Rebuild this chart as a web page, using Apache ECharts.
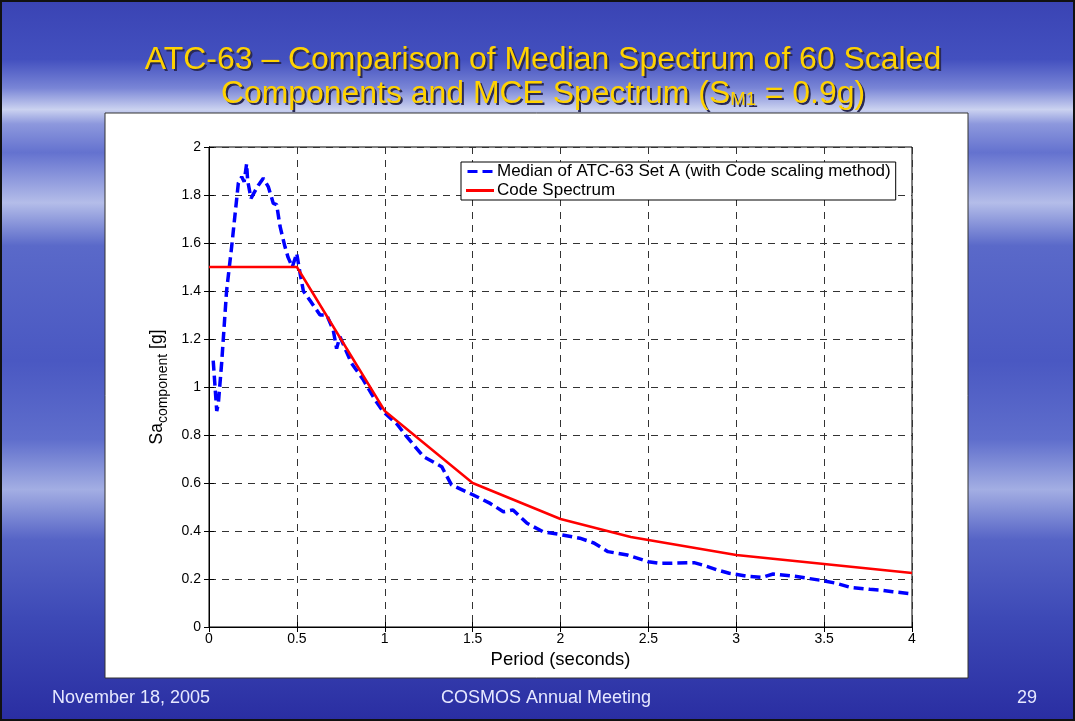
<!DOCTYPE html>
<html>
<head>
<meta charset="utf-8">
<script src="https://cdn.jsdelivr.net/npm/echarts@6/dist/echarts.min.js"></script>
<style>
  html, body { margin: 0; padding: 0; }
  #slide {
    width: 1075px; height: 721px; box-sizing: border-box;
    border: 2px solid #111;
    background: linear-gradient(180deg,
      #3a44b4 0%, #4350bf 8%, #7985d6 12%, #cbd2f0 15%, #8d98dd 17%,
      #6472cf 21%, #b4bde9 28%, #5a69c9 34%, #4a58c2 50%, #5f6ecc 61%,
      #a3aee3 68%, #5664c6 75%, #3d49b6 86%, #2a2ea2 100%);
  }
  #chart { width: 1071px; height: 717px; }
</style>
</head>
<body>
<div id="slide"><div id="chart"></div></div>
<script>
// median of 60 scaled components
const medianPeriods = [0.024, 0.044, 0.053, 0.072, 0.10, 0.129, 0.167, 0.186, 0.20, 0.214, 0.22, 0.239, 0.25,
  0.28, 0.309, 0.337, 0.366, 0.385, 0.404, 0.432, 0.45, 0.474, 0.499, 0.518, 0.537, 0.575, 0.632, 0.67,
  0.707, 0.726, 0.745, 0.81, 0.878, 0.945, 0.992, 1.07, 1.125, 1.22, 1.324, 1.38, 1.504, 1.6, 1.675, 1.73,
  1.81, 1.90, 2.0, 2.11, 2.19, 2.27, 2.38, 2.50, 2.57, 2.76, 2.81, 2.89, 2.96, 3.06, 3.15, 3.21, 3.325,
  3.495, 3.57, 3.65, 3.76, 3.82, 3.89, 4.0]
const medianSa = [1.11, 0.90, 0.93, 1.10, 1.40, 1.585, 1.85, 1.876, 1.855, 1.93, 1.86, 1.786, 1.79,
  1.84, 1.87, 1.835, 1.765, 1.76, 1.67, 1.585, 1.54, 1.50, 1.557, 1.474, 1.40, 1.36, 1.30, 1.30,
  1.237, 1.16, 1.21, 1.10, 1.03, 0.946, 0.897, 0.845, 0.793, 0.71, 0.668, 0.592, 0.55, 0.515, 0.48, 0.4875,
  0.432, 0.397, 0.385, 0.37, 0.35, 0.314, 0.30, 0.272, 0.265, 0.268, 0.258, 0.238, 0.224, 0.212, 0.207, 0.221, 0.212,
  0.193, 0.182, 0.165, 0.157, 0.154, 0.147, 0.138]

// MCE code spectrum
const codePeriods = [0, 0.5, 0.75, 1.0, 1.5, 2.0, 2.4, 3.0, 4.0]
const codeSa = [1.5, 1.5, 1.2, 0.9, 0.6, 0.45, 0.375, 0.3, 0.225]

const xTicks = [0, 0.5, 1, 1.5, 2, 2.5, 3, 3.5, 4]
const yTicks = [0, 0.2, 0.4, 0.6, 0.8, 1, 1.2, 1.4, 1.6, 1.8, 2]

const titleLine1 = 'ATC-63 – Comparison of Median Spectrum of 60 Scaled'
const titleLine2 = 'Components and MCE Spectrum (S{sub|M1} = 0.9g)'

const font = 'Liberation Sans, Arial, sans-serif'

const chart = echarts.init(document.getElementById('chart'))

const gridLine = { show: true, lineStyle: { color: '#333', width: 1, type: [7, 6] } }

// title text with a hard drop shadow (drawn twice)
function titleText(text, y, fill, dx) {
  return {
    type: 'text', x: 541 + dx, y: y + dx, scaleX: 1.03, z: 10 + (dx ? 0 : 1),
    style: {
      text: text, align: 'center', verticalAlign: 'middle',
      font: '31px ' + font, fill: fill,
      rich: { sub: { font: '18px ' + font, fill: fill, padding: [13, 0, 0, 0] } }
    }
  }
}

const footStyle = { font: '18px ' + font, fill: '#e6e8ff' }

chart.setOption({
  animation: false,
  graphic: [
    { type: 'rect', z: -1, shape: { x: 103, y: 111, width: 863, height: 565 },
      style: { fill: '#fff', stroke: '#333', lineWidth: 1 } },
    titleText(titleLine1, 58, '#2a2a55', 2),
    titleText(titleLine1, 58, '#ffd200', 0),
    titleText(titleLine2, 92, '#2a2a55', 2),
    titleText(titleLine2, 92, '#ffd200', 0),
    { type: 'text', x: 50, y: 696, style: Object.assign({ text: 'November 18, 2005', verticalAlign: 'middle' }, footStyle) },
    { type: 'text', x: 544, y: 696, style: Object.assign({ text: 'COSMOS Annual Meeting', align: 'center', verticalAlign: 'middle' }, footStyle) },
    { type: 'text', x: 1015, y: 696, style: Object.assign({ text: '29', verticalAlign: 'middle' }, footStyle) }
  ],
  legend: {
    orient: 'vertical',
    left: 459,
    top: 160,
    backgroundColor: '#fff',
    borderColor: '#000',
    borderWidth: 1,
    padding: [1, 5, 1, 5],
    itemGap: 2,
    itemWidth: 28,
    itemHeight: 3,
    textStyle: { fontFamily: font, fontSize: 17, color: '#000', padding: [0, 0, 0, -2] },
    data: [
      { name: 'Median of ATC-63 Set A (with Code scaling method)', icon: 'path://M0,0h10v3h-10z M15,0h10v3h-10z' },
      { name: 'Code Spectrum', icon: 'path://M0,0h28v3h-28z' }
    ]
  },
  grid: { left: 207, right: 161, top: 145, bottom: 92, show: true, borderColor: '#000', borderWidth: 1 },
  xAxis: [{
    type: 'value', min: 0, max: 4, interval: 0.5,
    name: 'Period (seconds)', nameLocation: 'middle', nameGap: 20,
    nameTextStyle: { fontFamily: font, fontSize: 18.5, color: '#000' },
    axisLine: { lineStyle: { color: '#000' } },
    axisTick: { inside: true, length: 5, lineStyle: { color: '#000' } },
    axisLabel: { fontFamily: font, fontSize: 14, color: '#000', margin: 5,
      formatter: v => xTicks.includes(v) ? String(v) : '' },
    splitLine: gridLine
  }, {
    type: 'value', min: 0, max: 4, interval: 0.5, position: 'top',
    axisLine: { lineStyle: { color: '#000' } },
    axisTick: { inside: true, length: 5, lineStyle: { color: '#000' } },
    axisLabel: { show: false }, splitLine: { show: false }
  }],
  yAxis: [{
    type: 'value', min: 0, max: 2, interval: 0.2,
    name: 'Sa{sub|component} [g]', nameLocation: 'middle', nameGap: 38, nameRotate: 90,
    nameTextStyle: { fontFamily: font, fontSize: 17.5, color: '#000',
      rich: { sub: { fontFamily: font, fontSize: 14, color: '#000', padding: [12, 0, 0, 0] } } },
    axisLine: { lineStyle: { color: '#000' } },
    axisTick: { inside: true, length: 5, lineStyle: { color: '#000' } },
    axisLabel: { fontFamily: font, fontSize: 14, color: '#000', margin: 8,
      formatter: v => yTicks.some(t => Math.abs(t - v) < 1e-9) ? String(+v.toFixed(1)) : '' },
    splitLine: gridLine
  }, {
    type: 'value', min: 0, max: 2, interval: 0.2, position: 'right',
    axisLine: { lineStyle: { color: '#000' } },
    axisTick: { inside: true, length: 5, lineStyle: { color: '#000' } },
    axisLabel: { show: false }, splitLine: { show: false }
  }],
  series: [{
    name: 'Median of ATC-63 Set A (with Code scaling method)',
    type: 'line',
    symbol: 'none',
    data: medianPeriods.map((t, i) => [t, medianSa[i]]),
    lineStyle: { color: '#0000ff', width: 3.5, type: [10, 5] },
    itemStyle: { color: '#0000ff' },
    z: 3
  }, {
    name: 'Code Spectrum',
    type: 'line',
    symbol: 'none',
    data: codePeriods.map((t, i) => [t, codeSa[i]]),
    lineStyle: { color: '#ff0000', width: 2.5 },
    itemStyle: { color: '#ff0000' },
    z: 4
  }]
})
</script>
</body>
</html>
